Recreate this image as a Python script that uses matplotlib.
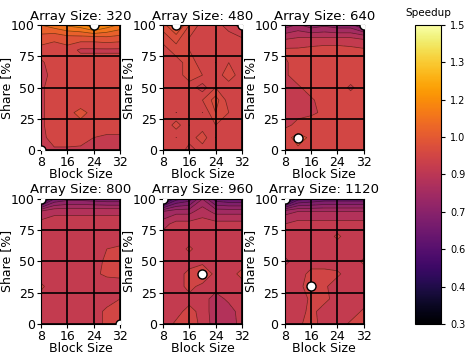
import matplotlib
matplotlib.use("Agg")
import matplotlib.pyplot as plt
import numpy as np

# grid of the measurements
block_sizes = [8, 12, 16, 20, 24, 28, 32]
shares = [0, 10, 20, 30, 40, 50, 60, 70, 80, 90, 100]
array_sizes = [320, 480, 640, 800, 960, 1120]

# speedup, one row per share (0 -> 100), one column per block size
speedup_320 = [
    [0.90, 0.94, 0.94, 0.94, 0.94, 0.94, 0.94],
    [0.93, 0.98, 0.98, 0.97, 0.95, 0.94, 0.94],
    [0.94, 0.98, 0.98, 0.98, 0.98, 0.98, 0.98],
    [0.94, 0.98, 0.98, 1.02, 0.98, 0.98, 0.98],
    [0.94, 0.98, 0.98, 0.96, 0.98, 0.98, 0.98],
    [0.94, 0.98, 0.98, 0.98, 0.98, 0.98, 0.98],
    [0.94, 0.96, 0.98, 0.98, 0.98, 0.98, 0.95],
    [0.94, 0.98, 0.98, 0.98, 0.98, 0.98, 0.98],
    [0.98, 0.98, 0.98, 0.94, 0.94, 0.94, 0.94],
    [1.03, 1.01, 1.03, 1.03, 1.03, 1.04, 1.03],
    [1.10, 1.13, 1.16, 1.18, 1.24, 1.18, 1.14],
]
speedup_480 = [
    [0.96, 0.98, 0.95, 0.97, 0.98, 0.96, 0.97],
    [0.98, 0.96, 0.97, 0.99, 0.96, 0.98, 0.96],
    [0.96, 0.99, 0.96, 0.97, 0.98, 0.97, 0.98],
    [0.97, 0.96, 0.98, 0.96, 1.00, 0.98, 0.97],
    [0.98, 0.97, 0.97, 0.98, 1.01, 0.97, 0.98],
    [0.96, 0.98, 0.97, 0.95, 0.98, 0.97, 0.96],
    [0.97, 0.97, 0.99, 0.98, 0.97, 0.99, 0.97],
    [0.98, 0.97, 0.99, 0.97, 0.96, 0.98, 0.97],
    [0.97, 0.99, 0.98, 0.97, 0.98, 0.97, 0.98],
    [0.99, 1.01, 0.98, 0.97, 0.98, 0.97, 0.96],
    [1.01, 1.05, 1.00, 0.97, 0.97, 0.95, 0.93],
]
speedup_640 = [
    [0.98, 0.99, 0.99, 0.98, 0.98, 0.98, 0.98],
    [0.98, 1.02, 0.99, 0.98, 0.98, 0.98, 0.98],
    [0.94, 0.96, 0.98, 0.98, 0.98, 0.98, 0.98],
    [0.94, 0.94, 0.94, 0.96, 0.98, 0.98, 0.98],
    [0.94, 0.94, 0.94, 0.98, 0.98, 0.98, 0.98],
    [0.94, 0.94, 0.98, 0.98, 0.98, 0.94, 0.98],
    [0.94, 0.98, 0.98, 0.98, 0.98, 0.98, 0.98],
    [0.94, 0.98, 0.98, 0.98, 0.98, 0.98, 0.98],
    [0.96, 0.96, 0.97, 0.98, 0.98, 0.97, 0.96],
    [0.89, 0.90, 0.90, 0.90, 0.90, 0.90, 0.89],
    [0.77, 0.81, 0.77, 0.79, 0.77, 0.77, 0.69],
]
speedup_800 = [
    [0.92, 0.92, 0.93, 0.92, 0.93, 0.96, 0.98],
    [0.92, 0.92, 0.92, 0.92, 0.93, 0.96, 0.97],
    [0.93, 0.92, 0.92, 0.92, 0.92, 0.93, 0.95],
    [0.96, 0.92, 0.92, 0.92, 0.92, 0.92, 0.93],
    [0.92, 0.92, 0.92, 0.92, 0.94, 0.96, 0.96],
    [0.93, 0.92, 0.92, 0.92, 0.93, 0.96, 0.97],
    [0.92, 0.92, 0.92, 0.92, 0.92, 0.95, 0.96],
    [0.92, 0.92, 0.92, 0.92, 0.92, 0.92, 0.92],
    [0.92, 0.92, 0.92, 0.92, 0.92, 0.92, 0.92],
    [0.86, 0.89, 0.89, 0.89, 0.89, 0.89, 0.89],
    [0.52, 0.70, 0.73, 0.73, 0.72, 0.71, 0.71],
]
speedup_960 = [
    [0.92, 0.96, 0.97, 0.94, 0.87, 0.87, 0.92],
    [0.92, 0.93, 0.97, 0.93, 0.87, 0.88, 0.92],
    [0.92, 0.92, 0.93, 0.92, 0.88, 0.91, 0.92],
    [0.92, 0.92, 0.97, 0.93, 0.92, 0.92, 0.92],
    [0.92, 0.92, 0.97, 1.01, 0.93, 0.92, 0.97],
    [0.92, 0.92, 0.92, 0.93, 0.92, 0.92, 0.92],
    [0.92, 0.92, 0.96, 0.92, 0.92, 0.92, 0.92],
    [0.92, 0.92, 0.92, 0.92, 0.92, 0.92, 0.92],
    [0.88, 0.92, 0.92, 0.92, 0.92, 0.92, 0.92],
    [0.80, 0.83, 0.83, 0.88, 0.83, 0.83, 0.83],
    [0.46, 0.63, 0.67, 0.80, 0.67, 0.65, 0.65],
]
speedup_1120 = [
    [0.92, 0.94, 0.97, 0.93, 0.92, 0.96, 0.98],
    [0.92, 0.92, 0.97, 0.92, 0.92, 0.92, 0.96],
    [0.92, 0.92, 0.96, 0.97, 0.92, 0.92, 0.92],
    [0.92, 0.92, 1.00, 0.96, 0.92, 0.92, 0.92],
    [0.92, 0.92, 0.97, 0.97, 0.96, 0.92, 0.92],
    [0.89, 0.92, 0.92, 0.92, 0.92, 0.92, 0.96],
    [0.92, 0.92, 0.92, 0.92, 0.92, 0.92, 0.92],
    [0.92, 0.92, 0.92, 0.92, 0.96, 0.92, 0.92],
    [0.90, 0.92, 0.92, 0.92, 0.92, 0.92, 0.92],
    [0.83, 0.85, 0.85, 0.85, 0.85, 0.85, 0.85],
    [0.44, 0.63, 0.65, 0.67, 0.67, 0.67, 0.67],
]
all_speedups = [speedup_320, speedup_480, speedup_640,
                speedup_800, speedup_960, speedup_1120]
level_steps = [0.05, 0.02, 0.05, 0.05, 0.05, 0.05]

cbar_ticks = [0.3, 0.45, 0.6, 0.75, 0.9, 1.05, 1.2, 1.35, 1.5]
cbar_labels = ["0.3", "0.4", "0.6", "0.7", "0.9", "1.0", "1.2", "1.3", "1.5"]

vmin, vmax = 0.3, 1.5
fig = plt.figure(figsize=(4.67, 3.54), dpi=100)

lefts = [0.088, 0.349, 0.610]
bottoms = [0.576, 0.085]
X, Y = np.meshgrid(block_sizes, shares)

for i, (size, z) in enumerate(zip(array_sizes, all_speedups)):
    Z = np.array(z)
    step = level_steps[i]
    levels = np.arange(np.floor(Z.min() / step) * step,
                       Z.max() + step, step)
    ax = fig.add_axes([lefts[i % 3], bottoms[i // 3], 0.169, 0.353])
    ax.contourf(X, Y, Z, levels=levels, cmap="inferno", vmin=vmin, vmax=vmax)
    ax.contour(X, Y, Z, levels=levels, colors="k", linewidths=0.5, alpha=0.5)
    # best and worst configuration
    imax = np.unravel_index(np.argmax(Z), Z.shape)
    imin = np.unravel_index(np.argmin(Z), Z.shape)
    for r, c in [imax, imin]:
        ax.plot(block_sizes[c], shares[r], "o", color="white", mec="black",
                mew=1.0, ms=6.5, zorder=5)
    ax.grid(True, color="black", linewidth=1.2)
    ax.set_xticks([8, 16, 24, 32])
    ax.set_yticks([0, 25, 50, 75, 100])
    ax.set_xlim(8, 32)
    ax.set_ylim(0, 100)
    ax.tick_params(labelsize=9, length=3, pad=1.5)
    ax.set_title("Array Size: %d" % size, fontsize=9.5, pad=4)
    ax.set_xlabel("Block Size", fontsize=9, labelpad=-1)
    ax.set_ylabel("Share [%]", fontsize=9, labelpad=-1.5)

cax = fig.add_axes([0.889, 0.085, 0.056, 0.845])
sm = plt.cm.ScalarMappable(cmap="inferno",
                           norm=plt.Normalize(vmin=vmin, vmax=vmax))
cb = fig.colorbar(sm, cax=cax)
cb.set_ticks(cbar_ticks)
cb.set_ticklabels(cbar_labels)
cb.ax.tick_params(labelsize=7, length=3)
cax.set_title("Speedup", fontsize=7.5, pad=6)

fig.savefig("out.png", dpi=100)
